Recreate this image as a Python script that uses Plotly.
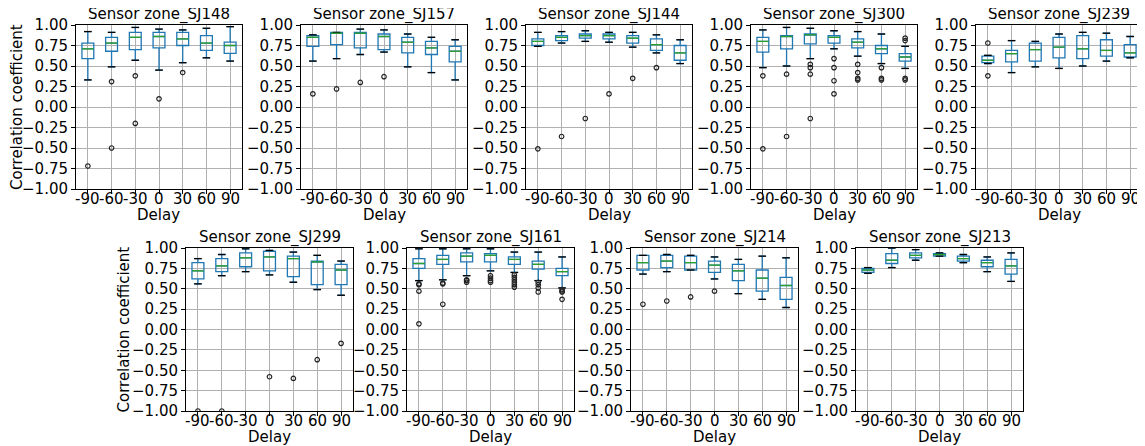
import plotly.graph_objects as go

DELAYS = ["-90", "-60", "-30", "0", "30", "60", "90"]
ZONES = ["SJ148", "SJ157", "SJ144", "SJ300", "SJ239", "SJ299", "SJ161", "SJ214", "SJ213"]

# box statistics per zone, one value per delay (lo/hi = whisker ends)
sj148 = {
    "lo": [0.33, 0.49, 0.57, 0.45, 0.54, 0.60, 0.56],
    "q1": [0.59, 0.68, 0.70, 0.72, 0.75, 0.69, 0.655],
    "med": [0.71, 0.78, 0.85, 0.86, 0.83, 0.78, 0.75],
    "q3": [0.78, 0.85, 0.91, 0.91, 0.91, 0.87, 0.79],
    "hi": [0.92, 0.91, 0.97, 0.95, 0.94, 0.96, 0.98],
}
sj148_out = {"-90": [-0.72], "-60": [0.31, -0.50], "-30": [0.38, -0.20], "0": [0.10], "30": [0.42]}

sj157 = {
    "lo": [0.56, 0.59, 0.64, 0.67, 0.49, 0.42, 0.33],
    "q1": [0.74, 0.76, 0.72, 0.70, 0.66, 0.64, 0.55],
    "med": [0.85, 0.90, 0.90, 0.86, 0.79, 0.72, 0.68],
    "q3": [0.87, 0.91, 0.91, 0.89, 0.85, 0.80, 0.74],
    "hi": [0.88, 0.91, 0.95, 0.94, 0.89, 0.85, 0.82],
}
sj157_out = {"-90": [0.16], "-60": [0.22], "-30": [0.30], "0": [0.37]}

sj144 = {
    "lo": [0.74, 0.78, 0.80, 0.79, 0.73, 0.66, 0.53],
    "q1": [0.75, 0.81, 0.84, 0.83, 0.78, 0.69, 0.57],
    "med": [0.80, 0.85, 0.87, 0.87, 0.84, 0.76, 0.66],
    "q3": [0.83, 0.87, 0.89, 0.89, 0.87, 0.83, 0.75],
    "hi": [0.91, 0.92, 0.93, 0.91, 0.91, 0.88, 0.82],
}
sj144_out = {"-90": [-0.51], "-60": [-0.36], "-30": [-0.14], "0": [0.16], "30": [0.35], "60": [0.48]}

sj300 = {
    "lo": [0.48, 0.50, 0.59, 0.71, 0.62, 0.53, 0.47],
    "q1": [0.67, 0.71, 0.77, 0.78, 0.72, 0.65, 0.56],
    "med": [0.80, 0.86, 0.88, 0.85, 0.79, 0.71, 0.61],
    "q3": [0.85, 0.87, 0.89, 0.87, 0.83, 0.75, 0.65],
    "hi": [0.94, 0.97, 0.96, 0.93, 0.92, 0.89, 0.74],
}
sj300_out = {
    "-90": [0.38, -0.51], "-60": [0.40, -0.36], "-30": [0.52, 0.48, 0.40, -0.14],
    "0": [0.59, 0.48, 0.32, 0.16], "30": [0.52, 0.42, 0.35, 0.33],
    "60": [0.48, 0.35, 0.33], "90": [0.84, 0.81, 0.35, 0.33],
}

sj239 = {
    "lo": [0.53, 0.42, 0.49, 0.47, 0.50, 0.56, 0.60],
    "q1": [0.54, 0.55, 0.56, 0.60, 0.59, 0.62, 0.61],
    "med": [0.57, 0.65, 0.70, 0.73, 0.71, 0.69, 0.66],
    "q3": [0.62, 0.69, 0.78, 0.85, 0.87, 0.82, 0.76],
    "hi": [0.63, 0.81, 0.80, 0.89, 0.91, 0.90, 0.86],
}
sj239_out = {"-90": [0.78, 0.38]}

sj299 = {
    "lo": [0.56, 0.66, 0.71, 0.67, 0.58, 0.49, 0.42],
    "q1": [0.62, 0.71, 0.77, 0.72, 0.65, 0.55, 0.55],
    "med": [0.72, 0.78, 0.88, 0.89, 0.87, 0.83, 0.73],
    "q3": [0.82, 0.87, 0.94, 0.96, 0.90, 0.84, 0.80],
    "hi": [0.87, 0.92, 0.99, 0.97, 0.95, 0.91, 0.84],
}
sj299_out = {"-90": [-1.0], "-60": [-1.0], "0": [-0.58], "30": [-0.60], "60": [-0.37], "90": [-0.17]}

sj161 = {
    "lo": [0.60, 0.61, 0.66, 0.72, 0.70, 0.60, 0.51],
    "q1": [0.75, 0.80, 0.83, 0.83, 0.80, 0.74, 0.66],
    "med": [0.81, 0.86, 0.90, 0.91, 0.86, 0.80, 0.71],
    "q3": [0.87, 0.91, 0.94, 0.93, 0.89, 0.84, 0.75],
    "hi": [0.99, 0.99, 0.99, 0.99, 0.95, 0.95, 0.89],
}
sj161_out = {
    "-90": [0.56, 0.55, 0.47, 0.07], "-60": [0.57, 0.56, 0.31], "-30": [0.61, 0.60, 0.58],
    "0": [0.66, 0.63, 0.60, 0.58], "30": [0.67, 0.64, 0.61, 0.58, 0.55, 0.52],
    "60": [0.58, 0.55, 0.51, 0.46], "90": [0.49, 0.47, 0.46, 0.37],
}

sj214 = {
    "lo": [0.68, 0.71, 0.73, 0.62, 0.44, 0.37, 0.27],
    "q1": [0.73, 0.76, 0.73, 0.70, 0.60, 0.47, 0.37],
    "med": [0.82, 0.84, 0.82, 0.79, 0.72, 0.63, 0.54],
    "q3": [0.91, 0.91, 0.90, 0.84, 0.80, 0.73, 0.64],
    "hi": [0.91, 0.92, 0.91, 0.89, 0.86, 0.90, 0.88],
}
sj214_out = {"-90": [0.31], "-60": [0.35], "-30": [0.40], "0": [0.47]}

sj213 = {
    "lo": [0.69, 0.76, 0.85, 0.90, 0.82, 0.71, 0.59],
    "q1": [0.70, 0.81, 0.88, 0.90, 0.84, 0.77, 0.68],
    "med": [0.73, 0.85, 0.91, 0.92, 0.87, 0.82, 0.78],
    "q3": [0.75, 0.93, 0.94, 0.93, 0.90, 0.85, 0.86],
    "hi": [0.76, 1.00, 0.98, 0.94, 0.92, 0.89, 0.94],
}
sj213_out = {}

YTICKS = [-1.0, -0.75, -0.5, -0.25, 0.0, 0.25, 0.5, 0.75, 1.0]

panels = [
    (sj148, sj148_out), (sj157, sj157_out), (sj144, sj144_out), (sj300, sj300_out),
    (sj239, sj239_out), (sj299, sj299_out), (sj161, sj161_out), (sj214, sj214_out),
    (sj213, sj213_out),
]

W, H = 1145, 446
OFF = 8  # the page body has an 8px margin, so shift the layout up/left
# panel boxes in window pixels: left, top, width, height
boxes = [(76 + 225 * i, 25, 166, 164) for i in range(5)] + \
        [(l, 248, 167, 163) for l in (186, 407, 631, 856)]

BLUE = "#1f77b4"
GREEN = "#2ca02c"
FONT = "DejaVu Sans"


def px(x):
    return (x - OFF) / W


def py(y):
    return 1 - (y - OFF) / H


fig = go.Figure()
annotations = []
layout_axes = {}

for i, (zone, (stats, outl)) in enumerate(zip(ZONES, panels)):
    n = i + 1
    xa = "x" if n == 1 else f"x{n}"
    ya = "y" if n == 1 else f"y{n}"

    fig.add_trace(go.Box(
        x=DELAYS, q1=stats["q1"], median=stats["med"], q3=stats["q3"],
        lowerfence=stats["lo"], upperfence=stats["hi"],
        xaxis=xa, yaxis=ya, width=0.5, whiskerwidth=0.6,
        line=dict(color=BLUE, width=1.3), fillcolor="rgba(0,0,0,0)",
        boxpoints=False, showlegend=False, hoverinfo="skip",
    ))
    # black whisker caps
    fig.add_trace(go.Scatter(
        x=DELAYS + DELAYS, y=stats["lo"] + stats["hi"], mode="markers",
        marker=dict(symbol="line-ew", size=5.5, line=dict(color="black", width=1.3)),
        xaxis=xa, yaxis=ya, showlegend=False, hoverinfo="skip",
    ))
    # green medians
    fig.add_trace(go.Scatter(
        x=DELAYS, y=stats["med"], mode="markers",
        marker=dict(symbol="line-ew", size=8.4, line=dict(color=GREEN, width=1.3)),
        xaxis=xa, yaxis=ya, showlegend=False, hoverinfo="skip",
    ))
    # fliers
    ox, oy = [], []
    for d, vals in outl.items():
        ox += [d] * len(vals)
        oy += vals
    if ox:
        fig.add_trace(go.Scatter(
            x=ox, y=oy, mode="markers",
            marker=dict(symbol="circle-open", size=4.5, color="#222222", line=dict(width=1.2)),
            xaxis=xa, yaxis=ya, showlegend=False, hoverinfo="skip",
        ))

    l, t, w, h = boxes[i]
    xd = [px(l), px(l + w)]
    yd = [py(t + h), py(t)]
    common = dict(
        showgrid=True, gridcolor="#b0b0b0", gridwidth=0.8,
        showline=True, linecolor="black", linewidth=1, mirror=True,
        ticks="outside", ticklen=4, tickcolor="black", tickwidth=1,
        tickfont=dict(size=15, color="black", family=FONT), zeroline=False,
        automargin=False,
    )
    layout_axes["xaxis" if n == 1 else f"xaxis{n}"] = dict(
        domain=xd, anchor=ya, type="category", range=[-0.5, 6.5],
        tickmode="array", tickvals=DELAYS, showticklabels=False, **common)
    layout_axes["yaxis" if n == 1 else f"yaxis{n}"] = dict(
        domain=yd, anchor=xa, range=[-1, 1], tickmode="array", tickvals=YTICKS,
        tickformat=".2f", **common)

    # x tick labels, placed tight under the axis like the original
    for j, d in enumerate(DELAYS):
        annotations.append(dict(
            text=d, x=j, xref=xa, y=yd[0], yref="paper", xanchor="center",
            yanchor="middle", yshift=-10, showarrow=False,
            font=dict(size=15, color="black", family=FONT)))

    annotations.append(dict(
        text=f"Sensor zone_{zone}", x=(xd[0] + xd[1]) / 2, y=yd[1], xref="paper", yref="paper",
        xanchor="center", yanchor="bottom", showarrow=False, yshift=-1,
        font=dict(size=15, color="black", family=FONT)))
    annotations.append(dict(
        text="Delay", x=(xd[0] + xd[1]) / 2, y=py(t + h + 26), xref="paper", yref="paper",
        xanchor="center", yanchor="middle", showarrow=False,
        font=dict(size=15, color="black", family=FONT)))

for cx, row_top, row_h in ((17, 25, 164), (123, 248, 163)):
    annotations.append(dict(
        text="Correlation coefficient", x=px(cx), y=py(row_top + row_h / 2),
        xref="paper", yref="paper", xanchor="center", yanchor="middle", textangle=-90,
        showarrow=False, font=dict(size=15, color="black", family=FONT)))

fig.update_layout(
    template="none",
    width=W, height=H, margin=dict(l=0, r=0, t=0, b=0, pad=0, autoexpand=False),
    paper_bgcolor="white", plot_bgcolor="white",
    font=dict(family=FONT, size=15, color="black"),
    annotations=annotations, **layout_axes,
)

fig.write_html("out.html")
